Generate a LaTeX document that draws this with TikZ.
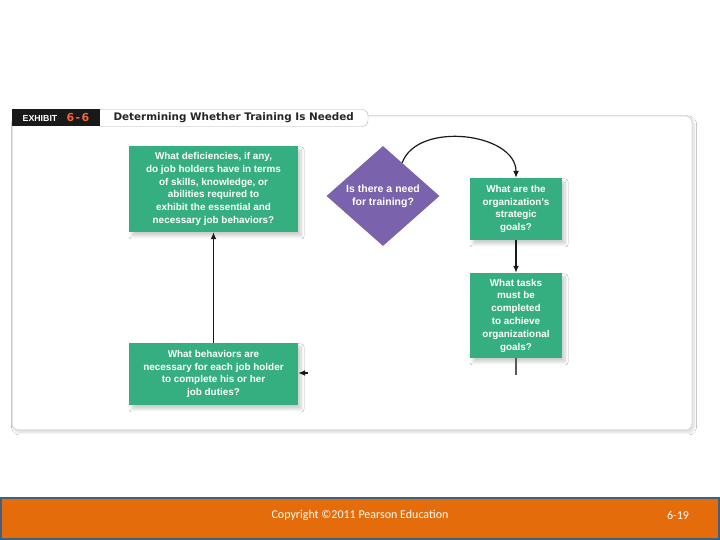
\documentclass[tikz,border=0pt]{standalone}
\usepackage{fontspec}
\setmainfont{Liberation Sans}
\newfontfamily\titlefont{DejaVu Sans}
\newfontfamily\exfont[LetterSpace=12]{DejaVu Sans}
\newfontfamily\footfont{Carlito}
\usetikzlibrary{shapes.geometric, arrows.meta, shadows.blur}
\definecolor{boxgreen}{HTML}{35AF7F}
\definecolor{diapurple}{HTML}{7A62AD}
\definecolor{exorange}{HTML}{F0683A}
\definecolor{footorange}{HTML}{E46C0A}
\definecolor{footline}{HTML}{41607E}

\begin{document}
\begin{tikzpicture}[x=1pt, y=1pt,
    every node/.style={font=\fontsize{9.9}{12.8}\selectfont\bfseries, text=white},
    qbox/.style={rectangle, fill=boxgreen, align=center, inner sep=0pt,
                 blur shadow={shadow xshift=3pt, shadow yshift=-4pt,
                              shadow opacity=20, shadow blur radius=3pt, shadow blur steps=10}},
    qdia/.style={diamond, fill=diapurple, align=center, inner sep=0pt,
                 font=\fontsize{10.5}{13}\selectfont\bfseries},
    conn/.style={-{Latex[length=7pt, width=6pt]}, line width=1.8pt, black!90}
]
    \useasboundingbox (0,0) rectangle (720,540);
    \fill[white] (0,0) rectangle (720,540);

    \node[draw=black!15, line width=1pt, fill=white, rounded corners=6pt,
          minimum width=680, minimum height=314, inner sep=0pt,
          blur shadow={shadow xshift=2pt, shadow yshift=-2.5pt, shadow opacity=15,
                       shadow blur radius=2.5pt, shadow blur steps=10}]
          (panel) at (352,267) {};
    \node[draw=black!30, fill=white, rounded corners=6pt, minimum width=272,
          minimum height=17, inner sep=0pt] (tab) at (232,422) {};
    \node[fill=black!90, minimum width=88, minimum height=17, inner sep=0pt] (exbar) at (56,422) {};
    \node[font=\fontsize{8.8}{10}\selectfont\bfseries] (exword) at (40,422) {EXHIBIT};
    \node[font=\exfont\fontsize{11}{12}\selectfont\bfseries, text=exorange] (exnum) at (78,422) {6-6};
    \node[font=\titlefont\fontsize{10.4}{12}\selectfont\bfseries, text=black!85, anchor=west]
          (title) at (110,422) {Determining Whether Training Is Needed};

    \node[qbox, minimum width=169, minimum height=86] (defic) at (213.5,351)
          {What deficiencies, if any,\\do job holders have in terms\\of skills, knowledge, or\\abilities required to\\exhibit the essential and\\necessary job behaviors?};
    \node[qdia, minimum width=113, minimum height=100] (need) at (383,344)
          {Is there a need\\for training?};
    \node[qbox, minimum width=92, minimum height=62] (goals) at (516,331)
          {What are the\\organization's\\strategic\\goals?};
    \node[qbox, minimum width=92, minimum height=85] (tasks) at (516,224.5)
          {What tasks\\must be\\completed\\to achieve\\organizational\\goals?};
    \node[qbox, minimum width=169, minimum height=62] (behav) at (213.5,166)
          {What behaviors are\\necessary for each job holder\\to complete his or her\\job duties?};
    \coordinate (tasksend) at (516,165);
    \coordinate (tipstart) at (308,167);

    \draw[conn, line width=1.2pt] (need.60) to[out=70, in=90] (goals.north);
    \draw[conn] (goals) -- (tasks);
    \draw[line width=1.4pt, black!65] (tasks) -- (tasksend);
    \draw[conn] (tipstart) -- (behav.east |- tipstart);
    \draw[conn] (behav) -- (defic);

    \node[fill=footorange, draw=footline, line width=2pt, minimum width=718,
          minimum height=41, inner sep=0pt] (foot) at (360,21.5) {};
    \node[font=\footfont\fontsize{12}{14}\selectfont] (copy) at (360,25)
          {Copyright ©2011 Pearson Education};
    \node[font=\footfont\fontsize{12}{14}\selectfont] (page) at (678,25) {6-19};
\end{tikzpicture}
\end{document}
